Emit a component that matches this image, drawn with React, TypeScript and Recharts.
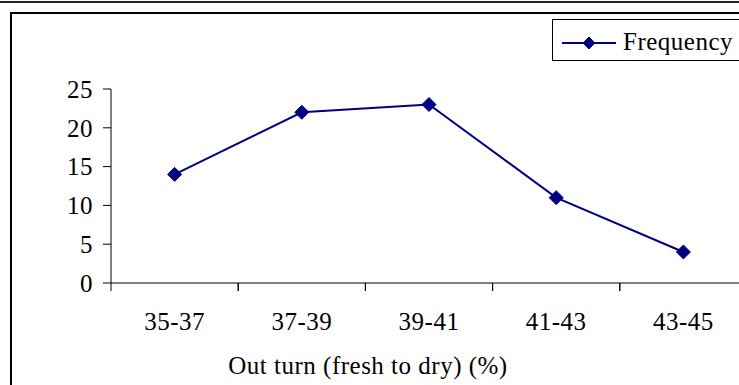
import { LineChart, Line, XAxis, YAxis, Legend, Label } from 'recharts';

const categories = ['35-37', '37-39', '39-41', '41-43', '43-45'];
const frequency = [14, 22, 23, 11, 4];
const yTicks = [0, 5, 10, 15, 20, 25];

const data = categories.map((name, i) => ({ name, Frequency: frequency[i] }));

const NAVY = '#000080';
const FONT = '"Liberation Serif", "Times New Roman", serif';
const TEXT = { fontSize: 25, fontFamily: FONT, fill: '#000', letterSpacing: 0.5 };

function Diamond({ cx, cy, half = 7 }: { cx?: number; cy?: number; half?: number }) {
  if (cx == null || cy == null) return null;
  return (
    <path
      d={`M${cx},${cy - half}L${cx + half},${cy}L${cx},${cy + half}L${cx - half},${cy}Z`}
      fill={NAVY}
      stroke={NAVY}
    />
  );
}

function XTick(props: any) {
  const { x, y, payload } = props;
  const half = payload?.offset ?? 63.6;
  return (
    <g>
      <line x1={x - half} x2={x - half} y1={y} y2={y + 8} stroke="#000" />
      <line x1={x + half} x2={x + half} y1={y} y2={y + 8} stroke="#000" />
      <text x={x} y={y + 47} textAnchor="middle" {...TEXT}>
        {payload.value}
      </text>
    </g>
  );
}

function LegendBox({ payload }: any) {
  const item = payload?.[0];
  return (
    <svg width={200} height={40} style={{ display: 'block' }}>
      <line x1={9} x2={63} y1={23} y2={23} stroke={NAVY} strokeWidth={2} />
      <Diamond cx={36} cy={23} half={6} />
      <text x={70} y={30} {...TEXT}>
        {item?.value ?? 'Frequency'}
      </text>
    </svg>
  );
}

export default function App() {
  return (
    <div
      style={{
        position: 'absolute',
        left: 0,
        top: 0,
        width: 739,
        height: 385,
        overflow: 'hidden',
        background: '#fff',
      }}
    >
      <div style={{ position: 'absolute', left: 0, top: 1, width: 739, height: 2, background: '#222' }} />
      <div
        style={{
          position: 'absolute',
          left: 10,
          top: 12,
          width: 760,
          height: 400,
          borderLeft: '2px solid #000',
          borderTop: '2px solid #000',
        }}
      />
      <div style={{ position: 'absolute', left: 0, top: 0 }}>
        <LineChart width={760} height={385} data={data} margin={{ top: 47, right: 13, bottom: 0, left: 0 }}>
          <XAxis
            dataKey="name"
            scale="band"
            height={102}
            axisLine={{ stroke: '#000' }}
            tickLine={false}
            tickSize={0}
            tickMargin={0}
            interval={0}
            tick={<XTick />}
          >
            <Label
              value="Out turn (fresh to dry) (%)"
              position="insideBottom"
              offset={11}
              dx={-61}
              style={TEXT}
            />
          </XAxis>
          <YAxis
            width={111}
            domain={[0, 25]}
            ticks={yTicks}
            interval={0}
            axisLine={{ stroke: '#000' }}
            tickLine={{ stroke: '#000' }}
            tickSize={8}
            tickMargin={10}
            tick={TEXT}
          />
          <Legend
            verticalAlign="top"
            content={<LegendBox />}
            wrapperStyle={{
              position: 'absolute',
              left: 552,
              top: 19,
              width: 200,
              height: 42,
              border: '1px solid #000',
              background: '#fff',
              boxSizing: 'border-box',
            }}
          />
          <Line
            type="linear"
            dataKey="Frequency"
            stroke={NAVY}
            strokeWidth={2}
            dot={<Diamond />}
            activeDot={false}
            isAnimationActive={false}
          />
        </LineChart>
      </div>
    </div>
  );
}
